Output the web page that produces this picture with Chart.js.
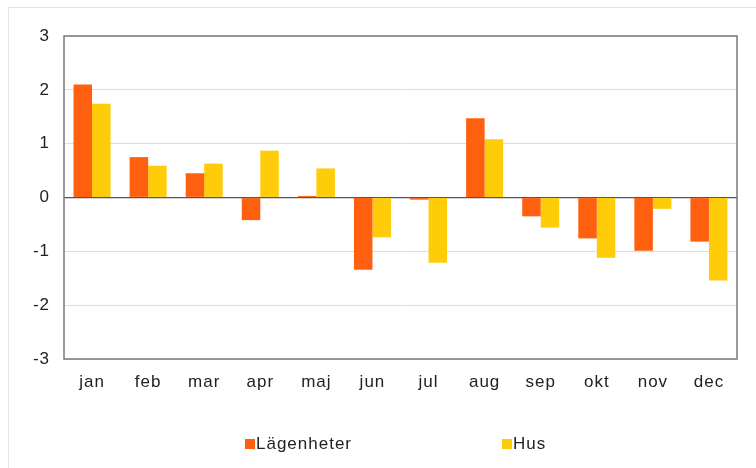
<!DOCTYPE html>
<html>
<head>
<meta charset="utf-8">
<script src="https://cdn.jsdelivr.net/npm/chart.js@4/dist/chart.umd.min.js"></script>
<style>
  html, body { margin: 0; padding: 0; background: #fff; }
  #wrap { position: relative; width: 756px; height: 468px; }
</style>
</head>
<body>
<div id="wrap"><canvas id="chart" width="756" height="468"></canvas></div>
<script>
// månader och värden (procent)
const months = ['jan', 'feb', 'mar', 'apr', 'maj', 'jun', 'jul', 'aug', 'sep', 'okt', 'nov', 'dec'];
const lagenheter = [2.10, 0.75, 0.45, -0.42, 0.03, -1.34, -0.04, 1.47, -0.35, -0.76, -0.99, -0.82];
const hus = [1.74, 0.59, 0.63, 0.87, 0.54, -0.74, -1.21, 1.08, -0.56, -1.12, -0.21, -1.54];
const yTicks = [-3, -2, -1, 0, 1, 2, 3];

const FONT = '"Liberation Sans", Arial, sans-serif';
const SIZE = 17;

// ram runt plotytan + ljus yttre kant + egen legend
const decor = {
    id: 'decor',
    beforeUpdate(chart) {
        // texten i originalet är glesare
        chart.ctx.letterSpacing = '1px';
    },
    beforeDraw(chart) {
        const c = chart.ctx;
        c.letterSpacing = '1px';
        c.save();
        c.strokeStyle = '#e4e4e4';
        c.lineWidth = 1;
        c.beginPath();
        c.moveTo(8.5, chart.height);
        c.lineTo(8.5, 7.5);
        c.lineTo(chart.width, 7.5);
        c.stroke();
        c.restore();
    },
    afterDraw(chart) {
        const c = chart.ctx;
        const a = chart.chartArea;
        c.save();
        c.strokeStyle = '#7a7a7a';
        c.lineWidth = 1.5;
        c.strokeRect(a.left, a.top, a.right - a.left, a.bottom - a.top);

        // legend
        const items = [
            { x: 245, ds: chart.data.datasets[0] },
            { x: 502, ds: chart.data.datasets[1] }
        ];
        c.font = SIZE + 'px ' + FONT;
        c.textBaseline = 'middle';
        items.forEach(it => {
            c.fillStyle = it.ds.backgroundColor;
            c.fillRect(it.x, 439, 10, 10);
            c.fillStyle = '#222';
            c.fillText(it.ds.label, it.x + 11, 444);
        });
        c.restore();
    }
};

new Chart(document.getElementById('chart'), {
    type: 'bar',
    data: {
        labels: months,
        datasets: [{
            label: 'Lägenheter',
            data: lagenheter,
            backgroundColor: '#ff6010'
        }, {
            label: 'Hus',
            data: hus,
            backgroundColor: '#ffcc0a'
        }]
    },
    options: {
        responsive: false,
        animation: false,
        datasets: {
            bar: { barPercentage: 1, categoryPercentage: 0.66 }
        },
        layout: { padding: { left: 0, top: 36, right: 19, bottom: 0 } },
        plugins: {
            legend: { display: false },
            tooltip: { enabled: false }
        },
        scales: {
            x: {
                grid: { display: false, drawTicks: false },
                border: { display: false },
                ticks: { color: '#222', font: { family: FONT, size: SIZE }, padding: 13 },
                afterFit(s) { s.height = 109; }
            },
            y: {
                min: -3,
                max: 3,
                afterBuildTicks(s) { s.ticks = yTicks.map(v => ({ value: v })); },
                grid: {
                    drawTicks: false,
                    color: ctx => ctx.tick && ctx.tick.value === 0 ? '#555' : '#dcdcdc',
                    lineWidth: ctx => ctx.tick && ctx.tick.value === 0 ? 1.2 : 1
                },
                border: { display: false },
                ticks: { color: '#222', font: { family: FONT, size: SIZE }, padding: 14 },
                afterFit(s) { s.width = 64; }
            }
        }
    },
    plugins: [decor]
});
</script>
</body>
</html>
